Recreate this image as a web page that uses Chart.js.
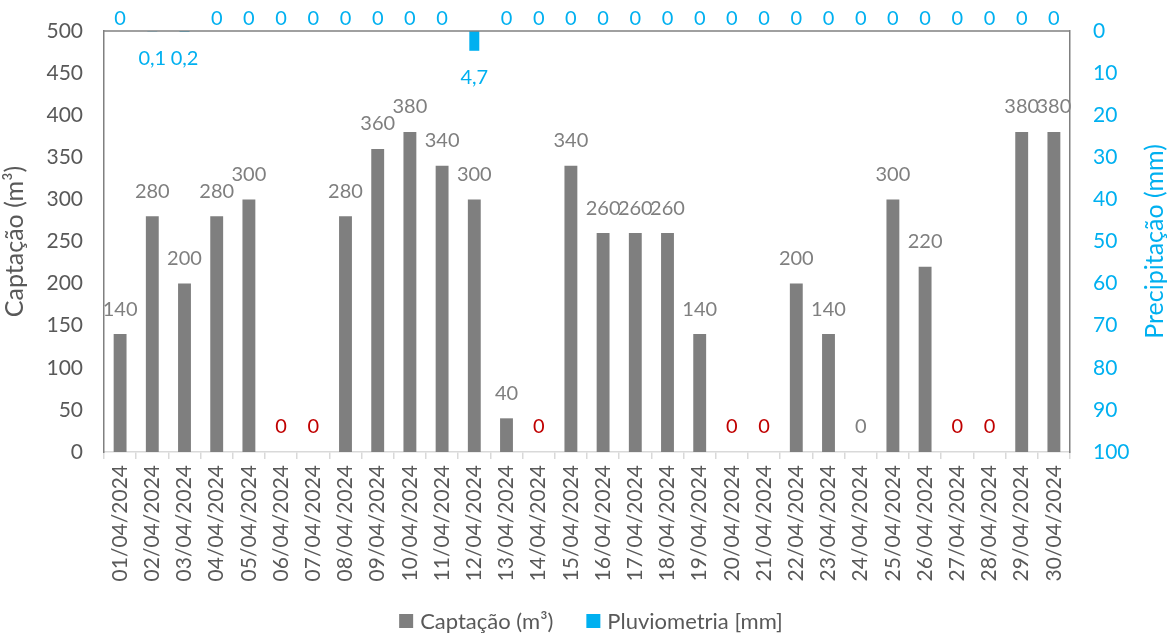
<!DOCTYPE html>
<html>
<head>
<meta charset="utf-8">
<script src="https://cdn.jsdelivr.net/npm/chart.js@4"></script>
<style>
  html, body { margin: 0; padding: 0; background: #fff; }
  #wrap { width: 1169px; height: 635px; }
</style>
</head>
<body>
<div id="wrap"><canvas id="c" width="1169" height="635"></canvas></div>
<script>
const categories = ["01/04/2024","02/04/2024","03/04/2024","04/04/2024","05/04/2024","06/04/2024","07/04/2024","08/04/2024","09/04/2024","10/04/2024","11/04/2024","12/04/2024","13/04/2024","14/04/2024","15/04/2024","16/04/2024","17/04/2024","18/04/2024","19/04/2024","20/04/2024","21/04/2024","22/04/2024","23/04/2024","24/04/2024","25/04/2024","26/04/2024","27/04/2024","28/04/2024","29/04/2024","30/04/2024"];
const captacao = [140,280,200,280,300,0,0,280,360,380,340,300,40,0,340,260,260,260,140,0,0,200,140,0,300,220,0,0,380,380];
const pluviometria = [0,0.1,0.2,0,0,0,0,0,0,0,0,4.7,0,0,0,0,0,0,0,0,0,0,0,0,0,0,0,0,0,0];
const leftTicks = [0,50,100,150,200,250,300,350,400,450,500];
const rightTicks = [0,10,20,30,40,50,60,70,80,90,100];
// days whose zero label is shown in red
const redZeroDays = ["06/04/2024","07/04/2024","14/04/2024","20/04/2024","21/04/2024","27/04/2024","28/04/2024"];
const rightTitle = 'Precipitação (mm)';

const GRAY = '#7F7F7F', BLUE = '#00B0F0', TXT = '#595959', RED = '#C00000';
const FONT = 'Lato, "Open Sans", sans-serif';

const fmt = v => String(v).replace('.', ',');

const labelPlugin = {
  id: 'labels',
  afterDatasetsDraw(chart) {
    const ctx = chart.ctx;
    const area = chart.chartArea;
    ctx.save();
    // top frame line
    ctx.strokeStyle = '#808080';
    ctx.lineWidth = 1.5;
    ctx.beginPath();
    ctx.moveTo(area.left, area.top);
    ctx.lineTo(area.right, area.top);
    ctx.stroke();

    ctx.font = '20px ' + FONT;
    ctx.textAlign = 'center';
    ctx.textBaseline = 'middle';
    // captação labels
    chart.getDatasetMeta(0).data.forEach((el, i) => {
      const v = captacao[i];
      ctx.fillStyle = (v === 0 && redZeroDays.includes(categories[i])) ? RED : GRAY;
      ctx.fillText(fmt(v), el.x, el.y - 25);
    });
    // pluviometria labels
    chart.getDatasetMeta(1).data.forEach((el, i) => {
      const v = pluviometria[i];
      ctx.fillStyle = BLUE;
      if (v === 0) ctx.fillText(fmt(v), el.x, area.top - 12);
      else ctx.fillText(fmt(v), el.x, el.y + 27);
    });

    // right axis title, reading bottom-to-top
    ctx.save();
    ctx.translate(1155, (area.top + area.bottom) / 2);
    ctx.rotate(-Math.PI / 2);
    ctx.font = '25px ' + FONT;
    ctx.fillStyle = BLUE;
    ctx.fillText(rightTitle, 0, 0);
    ctx.restore();

    // legend
    ctx.font = '22px ' + FONT;
    ctx.textAlign = 'left';
    const box = 14, gapText = 7, gapItem = 33, cy = 621;
    const items = chart.data.datasets.map(d => ({ text: d.label, color: d.backgroundColor, w: ctx.measureText(d.label).width }));
    const total = items.reduce((s, it) => s + box + gapText + it.w, 0) + gapItem * (items.length - 1);
    let x = 591 - total / 2;
    items.forEach(it => {
      ctx.fillStyle = it.color;
      ctx.fillRect(x, cy - box / 2, box, box);
      x += box + gapText;
      ctx.fillStyle = TXT;
      ctx.fillText(it.text, x, cy + 1);
      x += it.w + gapItem;
    });
    ctx.restore();
  }
};

const noVPad = s => { s.paddingTop = 0; s.paddingBottom = 0; };

new Chart(document.getElementById('c'), {
  type: 'bar',
  data: {
    labels: categories,
    datasets: [
      {
        label: 'Captação (m³)',
        data: captacao,
        backgroundColor: GRAY,
        yAxisID: 'y',
        grouped: false,
        categoryPercentage: 1,
        barPercentage: 0.4,
        order: 2
      },
      {
        label: 'Pluviometria [mm]',
        data: pluviometria,
        backgroundColor: BLUE,
        yAxisID: 'y2',
        grouped: false,
        categoryPercentage: 1,
        barPercentage: 0.31,
        order: 1
      }
    ]
  },
  options: {
    responsive: false,
    animation: false,
    devicePixelRatio: 1,
    layout: { padding: { top: 31, bottom: 0, left: 0, right: 0 } },
    plugins: {
      legend: { display: false },
      tooltip: { enabled: false }
    },
    scales: {
      x: {
        offset: true,
        grid: {
          display: true,
          drawOnChartArea: false,
          offset: true,
          drawTicks: true,
          tickLength: 7,
          color: '#D9D9D9',
          lineWidth: 1.5
        },
        border: { display: true, color: '#D9D9D9', width: 1.5 },
        ticks: {
          minRotation: 90,
          maxRotation: 90,
          autoSkip: false,
          padding: 6,
          color: TXT,
          font: { family: FONT, size: 21 }
        },
        afterFit: s => { s.height = 635 - 452; }
      },
      y: {
        position: 'left',
        min: 0,
        max: 500,
        afterBuildTicks: s => { s.ticks = leftTicks.map(v => ({ value: v })); },
        grid: { display: false, drawTicks: false },
        border: { display: true, color: '#808080', width: 1.5 },
        ticks: { padding: 21, color: TXT, font: { family: FONT, size: 21 } },
        title: {
          display: true,
          text: 'Captação (m³)',
          color: TXT,
          font: { family: FONT, size: 25 },
          padding: { top: 0, bottom: 7 }
        },
        afterFit: s => { s.width = 104; noVPad(s); }
      },
      y2: {
        position: 'right',
        reverse: true,
        min: 0,
        max: 100,
        afterBuildTicks: s => { s.ticks = rightTicks.map(v => ({ value: v })); },
        grid: { display: false, drawTicks: false },
        border: { display: true, color: '#808080', width: 1.5 },
        ticks: { padding: 23, color: BLUE, font: { family: FONT, size: 21 } },
        afterFit: s => { s.width = 99; noVPad(s); }
      }
    }
  },
  plugins: [labelPlugin]
});
</script>
</body>
</html>
